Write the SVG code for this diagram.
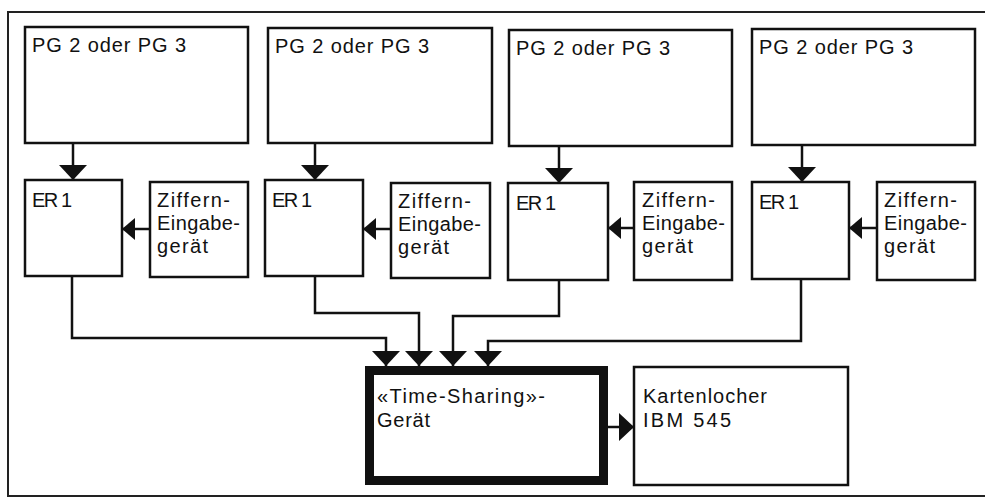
<svg xmlns="http://www.w3.org/2000/svg" width="985" height="499" viewBox="0 0 985 499">
<style>
.box{fill:#fff;stroke:#111;stroke-width:2.5}
.thick{fill:#fff;stroke:#111;stroke-width:9}
.t{font-family:"Liberation Sans",Arial,sans-serif;font-size:20px;fill:#111}
.c{fill:none;stroke:#111;stroke-width:2.5}
.frame{fill:none;stroke:#222;stroke-width:2}
</style>
<defs>
<marker id="ah" markerUnits="userSpaceOnUse" markerWidth="16" markerHeight="28" refX="15" refY="14" orient="auto" viewBox="0 0 16 28">
<path d="M0,0 L15,14 L0,28 z" fill="#111"/>
</marker>
<marker id="ahs" markerUnits="userSpaceOnUse" markerWidth="14" markerHeight="22" refX="13" refY="11" orient="auto" viewBox="0 0 14 22">
<path d="M0,0 L13,11 L0,22 z" fill="#111"/>
</marker>
</defs>
<rect width="985" height="499" fill="#fff"/>
<rect class="frame" x="8" y="12" width="990" height="484"/>

<g id="pg1"><rect class="box" x="25" y="27" width="223" height="116"/><text class="t" x="32" y="52" textLength="154" lengthAdjust="spacing">PG 2 oder PG 3</text></g>
<g id="pg2"><rect class="box" x="268" y="28" width="224" height="115"/><text class="t" x="275" y="53" textLength="154" lengthAdjust="spacing">PG 2 oder PG 3</text></g>
<g id="pg3"><rect class="box" x="509" y="30" width="223" height="116"/><text class="t" x="516" y="55" textLength="154" lengthAdjust="spacing">PG 2 oder PG 3</text></g>
<g id="pg4"><rect class="box" x="752" y="29" width="223" height="116"/><text class="t" x="759" y="54" textLength="154" lengthAdjust="spacing">PG 2 oder PG 3</text></g>

<g id="er1"><rect class="box" x="25" y="180" width="97" height="96"/><text class="t" x="32" y="207" textLength="40" lengthAdjust="spacing">ER 1</text></g>
<g id="er2"><rect class="box" x="265" y="180" width="98" height="96"/><text class="t" x="272" y="207" textLength="40" lengthAdjust="spacing">ER 1</text></g>
<g id="er3"><rect class="box" x="508" y="183" width="100" height="97"/><text class="t" x="516" y="210" textLength="40" lengthAdjust="spacing">ER 1</text></g>
<g id="er4"><rect class="box" x="752" y="182" width="97" height="97"/><text class="t" x="759" y="209" textLength="40" lengthAdjust="spacing">ER 1</text></g>

<g id="zg1"><rect class="box" x="150" y="182" width="98" height="95"/>
<text class="t" x="157" y="207" textLength="73" lengthAdjust="spacing">Ziffern-</text>
<text class="t" x="157" y="230" textLength="83" lengthAdjust="spacing">Eingabe-</text>
<text class="t" x="157" y="253" textLength="51" lengthAdjust="spacing">gerät</text></g>
<g id="zg2"><rect class="box" x="391" y="183" width="99" height="95"/>
<text class="t" x="398" y="208" textLength="73" lengthAdjust="spacing">Ziffern-</text>
<text class="t" x="398" y="231" textLength="83" lengthAdjust="spacing">Eingabe-</text>
<text class="t" x="398" y="254" textLength="51" lengthAdjust="spacing">gerät</text></g>
<g id="zg3"><rect class="box" x="634" y="182" width="98" height="98"/>
<text class="t" x="642" y="207" textLength="73" lengthAdjust="spacing">Ziffern-</text>
<text class="t" x="642" y="230" textLength="83" lengthAdjust="spacing">Eingabe-</text>
<text class="t" x="642" y="253" textLength="51" lengthAdjust="spacing">gerät</text></g>
<g id="zg4"><rect class="box" x="877" y="182" width="98" height="98"/>
<text class="t" x="884" y="207" textLength="73" lengthAdjust="spacing">Ziffern-</text>
<text class="t" x="884" y="230" textLength="83" lengthAdjust="spacing">Eingabe-</text>
<text class="t" x="884" y="253" textLength="51" lengthAdjust="spacing">gerät</text></g>

<g id="timesharing"><rect class="thick" x="369.5" y="370.5" width="234" height="110"/>
<text class="t" x="377" y="403" textLength="168" lengthAdjust="spacing">«Time-Sharing»-</text>
<text class="t" x="377" y="427" textLength="53" lengthAdjust="spacing">Gerät</text></g>

<g id="kartenlocher"><rect class="box" x="634" y="367" width="214" height="118"/>
<text class="t" x="643" y="403" textLength="124" lengthAdjust="spacing">Kartenlocher</text>
<text class="t" x="643" y="427" textLength="88" lengthAdjust="spacing">IBM 545</text></g>

<g id="connectors">
<path class="c" marker-end="url(#ah)" d="M73,143 V180"/>
<path class="c" marker-end="url(#ah)" d="M315,143 V180"/>
<path class="c" marker-end="url(#ah)" d="M559,146 V183"/>
<path class="c" marker-end="url(#ah)" d="M802,145 V182"/>
<path class="c" marker-end="url(#ahs)" d="M150,229 H122"/>
<path class="c" marker-end="url(#ahs)" d="M391,229 H363"/>
<path class="c" marker-end="url(#ahs)" d="M634,228 H608"/>
<path class="c" marker-end="url(#ahs)" d="M877,228 H849"/>
<path class="c" marker-end="url(#ah)" d="M72,276 V338 H386 V366"/>
<path class="c" marker-end="url(#ah)" d="M315,276 V313 H419 V366"/>
<path class="c" marker-end="url(#ah)" d="M559,280 V316 H453 V366"/>
<path class="c" marker-end="url(#ah)" d="M801,279 V341 H488 V366"/>
<path class="c" marker-end="url(#ah)" d="M608,427 H634"/>
</g>
</svg>
